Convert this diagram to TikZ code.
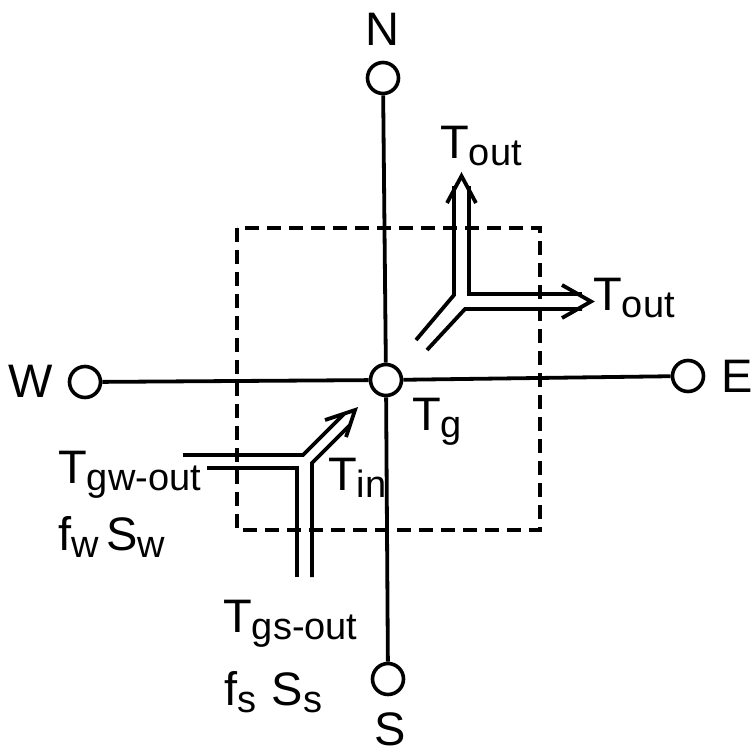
\documentclass[tikz,border=0pt]{standalone}
\usepackage{fontspec}
\setmainfont{Liberation Sans}
\newcommand\Sbx[1]{\raisebox{-7pt}{\fontsize{38}{38}\selectfont #1}}
\begin{document}
\begin{tikzpicture}[x=1pt,y=-1pt,
  pt/.style={circle,draw,line width=3.6pt,minimum size=31pt,inner sep=0pt,fill=white},
  ln/.style={line width=3.8pt},
  dsh/.style={line width=3.2pt,dash pattern=on 14pt off 8pt},
  pipe/.style={line width=3.8pt,line join=miter},
  lbl/.style={font=\fontsize{47}{50}\selectfont,inner sep=0pt},
  lbw/.style={lbl,anchor=base west}]
\useasboundingbox (0,0) rectangle (753,755);
% dashed control volume
\draw[dsh] (237,228) rectangle (540,530);
% nodes
\node[pt] (C) at (386,380) {};
\node[pt] (N) at (383,78) {};
\node[pt] (S) at (388,679) {};
\node[pt] (W) at (85,382) {};
\node[pt] (E) at (688,376) {};
\draw[ln] (N) -- (C) -- (S);
\draw[ln] (W) -- (C) -- (E);
% upper-right Y pipe
\draw[pipe] (454,186) -- (454,295) -- (416,340);
\draw[pipe] (469,186) -- (469,294) -- (582,294);
\draw[pipe] (582,309) -- (465,309) -- (427,350);
\draw[pipe] (447,203) -- (461.5,176) -- (476,203);
\draw[pipe] (562,285) -- (591,301.5) -- (562,318);
% lower-left Y pipe
\draw[pipe] (183,455) -- (303,455) -- (344,414);
\draw[pipe] (207,468) -- (297,468) -- (297,577);
\draw[pipe] (312,577) -- (312,463) -- (350,425);
\draw[pipe] (325,420) -- (355,410) -- (346,437);
% labels
\node[lbl] (nN) at (382,29) {N};
\node[lbl] (nW) at (31,381) {W};
\node[lbl] (nE) at (737,376) {E};
\node[lbl] (nS) at (390,729) {S};
\node[lbw] (to1) at (440,158) {T\Sbx{out}};
\node[lbw] (to2) at (593,310) {T\Sbx{out}};
\node[lbw] (tg) at (412,430) {T\Sbx{g}};
\node[lbw] (tin) at (328,490) {T\Sbx{in}};
\node[lbw] (tgw) at (58,483) {T\Sbx{gw-out}};
\node[lbw] (fw) at (58,550) {f\Sbx{w}\,S\Sbx{w}};
\node[lbw] (tgs) at (223,632) {T\Sbx{gs-out}};
\node[lbw] (fs) at (224,705) {f\Sbx{s}\,\,S\Sbx{s}};
\end{tikzpicture}
\end{document}
